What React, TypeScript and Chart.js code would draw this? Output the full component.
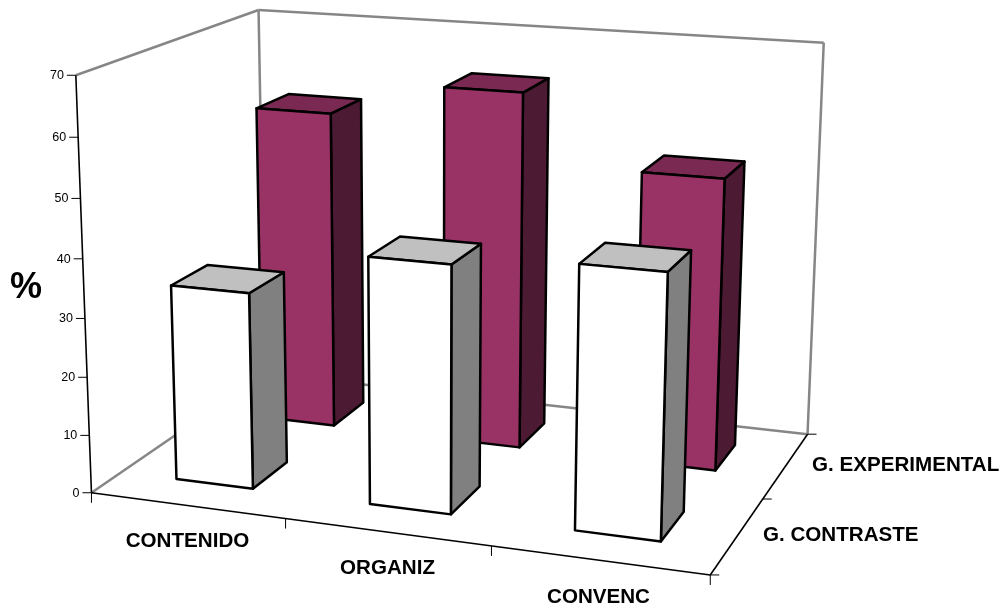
import { useEffect, useRef } from "react";
import { Chart, registerables } from "chart.js";

Chart.register(...registerables);

// Chart values
const categories = ["CONTENIDO", "ORGANIZ", "CONVENC"];
const seriesNames = ["G. CONTRASTE", "G. EXPERIMENTAL"];
const contrasteValues = [33.7, 41.7, 43.7];
const experimentalValues = [56.8, 62.8, 50.7];
const valueTicks = [0, 10, 20, 30, 40, 50, 60, 70];

// Box shading per series
const frontColors = ["#ffffff", "#993366"];
const topColors = ["#c0c0c0", "#7a2952"];
const sideColors = ["#808080", "#4d1a33"];

// Where the corners of the unit plot box (x, y, depth) land on the canvas
const boxCorners: [number, number, number, number, number][] = [
  [0, 0, 0, 92.5, 492.5],
  [1, 0, 0, 710, 575.5],
  [1, 0, 1, 808, 433.5],
  [0, 0, 1, 264, 374],
  [0, 1, 0, 75, 75],
  [0, 1, 1, 259.5, 10],
  [1, 1, 1, 823.5, 43],
];

// Box footprint relative to a category / series centre, in unit-cube terms
const BAR_OFFSET = -0.002;
const BAR_HALF_WIDTH = 0.067;
const BAR_DEPTH_NEAR = -0.095;
const BAR_DEPTH_FAR = 0.105;

// Text placement
const categoryLabelPos = [[187.5, 541], [387.5, 568], [598.5, 597]];
const seriesLabelPos = [[763, 535], [812, 465]];

const FONT = '"Liberation Sans", Arial, sans-serif';

type Pt = [number, number];

// Least-squares fit of a 3x4 projective camera to the corner list
function fitCamera(): number[] {
  const rows: number[][] = [];
  const rhs: number[] = [];
  for (const [x, y, z, u0, v0] of boxCorners) {
    const u = u0 / 1000;
    const v = v0 / 1000;
    rows.push([x, y, z, 1, 0, 0, 0, 0, -u * x, -u * y, -u * z]);
    rhs.push(u);
    rows.push([0, 0, 0, 0, x, y, z, 1, -v * x, -v * y, -v * z]);
    rhs.push(v);
  }
  const n = 11;
  const m: number[][] = [];
  for (let i = 0; i < n; i++) {
    const r = new Array(n + 1).fill(0);
    rows.forEach((row, k) => {
      for (let j = 0; j < n; j++) r[j] += row[i] * row[j];
      r[n] += row[i] * rhs[k];
    });
    m.push(r);
  }
  for (let i = 0; i < n; i++) {
    let p = i;
    for (let k = i + 1; k < n; k++) if (Math.abs(m[k][i]) > Math.abs(m[p][i])) p = k;
    [m[i], m[p]] = [m[p], m[i]];
    for (let k = 0; k < n; k++) {
      if (k === i) continue;
      const f = m[k][i] / m[i][i];
      for (let j = i; j <= n; j++) m[k][j] -= f * m[i][j];
    }
  }
  return m.map((r, i) => r[n] / r[i]);
}

const cam = fitCamera();

function project(x: number, y: number, z: number): Pt {
  const w = cam[8] * x + cam[9] * y + cam[10] * z + 1;
  return [
    (1000 * (cam[0] * x + cam[1] * y + cam[2] * z + cam[3])) / w,
    (1000 * (cam[4] * x + cam[5] * y + cam[6] * z + cam[7])) / w,
  ];
}

function segment(ctx: CanvasRenderingContext2D, a: Pt, b: Pt, color: string, width: number) {
  ctx.strokeStyle = color;
  ctx.lineWidth = width;
  ctx.beginPath();
  ctx.moveTo(a[0], a[1]);
  ctx.lineTo(b[0], b[1]);
  ctx.stroke();
}

function face(ctx: CanvasRenderingContext2D, pts: Pt[], fill: string) {
  ctx.fillStyle = fill;
  ctx.strokeStyle = "#000000";
  ctx.lineWidth = 2.5;
  ctx.lineJoin = "round";
  ctx.beginPath();
  pts.forEach((p, i) => (i ? ctx.lineTo(p[0], p[1]) : ctx.moveTo(p[0], p[1])));
  ctx.closePath();
  ctx.fill();
  ctx.stroke();
}

// Draws the perspective frame, axes and boxes in place of flat bars
const perspectiveBars = {
  id: "perspectiveBars",
  beforeDatasetsDraw(chart: any) {
    const { ctx, scales } = chart;
    const xs = scales.x;
    const ys = scales.y;
    const yFrac = (v: number) => (ys.bottom - ys.getPixelForValue(v)) / (ys.bottom - ys.top);
    const xFrac = (i: number) => (xs.getPixelForValue(i) - xs.left) / (xs.right - xs.left);
    const zFrac = (d: number) => (d + 0.5) / seriesNames.length;

    ctx.save();
    ctx.lineCap = "butt";

    // Back walls
    const grey = "#868686";
    segment(ctx, project(0, 0, 0), project(0, 0, 1), grey, 2.5);
    segment(ctx, project(0, 0, 1), project(1, 0, 1), grey, 2.5);
    segment(ctx, project(0, 0, 1), project(0, 1, 1), grey, 2.5);
    segment(ctx, project(0, 1, 0), project(0, 1, 1), grey, 2.5);
    segment(ctx, project(0, 1, 1), project(1, 1, 1), grey, 2.5);
    segment(ctx, project(1, 1, 1), project(1, 0, 1), grey, 2.5);

    // Axis lines
    const ink = "#000000";
    segment(ctx, project(0, 0, 0), project(0, 1, 0), ink, 1.6);
    segment(ctx, project(0, 0, 0), project(1, 0, 0), ink, 1.6);
    segment(ctx, project(1, 0, 0), project(1, 0, 1), ink, 1.6);

    // Value axis ticks and labels
    ctx.font = `12.5px ${FONT}`;
    ctx.textAlign = "right";
    ctx.textBaseline = "middle";
    valueTicks.forEach((t) => {
      const p = project(0, yFrac(t), 0);
      segment(ctx, [p[0] - 9, p[1]], p, ink, 1);
      ctx.fillStyle = "#000000";
      ctx.fillText(String(t), p[0] - 12, p[1] + 0.5);
    });

    // Category ticks along the front edge
    for (let i = 0; i <= categories.length; i++) {
      const p = project(i / categories.length, 0, 0);
      segment(ctx, p, [p[0], p[1] + 10], ink, 1);
    }
    // Series ticks along the right edge
    for (let i = 0; i <= seriesNames.length; i++) {
      const p = project(1, 0, i / seriesNames.length);
      segment(ctx, p, [p[0] + 9, p[1]], ink, 1);
    }

    // Boxes, rear row first so the front row overlaps it
    for (let d = seriesNames.length - 1; d >= 0; d--) {
      const values: number[] = chart.data.datasets[d].data;
      values.forEach((v, i) => {
        const x0 = xFrac(i) + BAR_OFFSET - BAR_HALF_WIDTH;
        const x1 = xFrac(i) + BAR_OFFSET + BAR_HALF_WIDTH;
        const z0 = zFrac(d) + BAR_DEPTH_NEAR;
        const z1 = zFrac(d) + BAR_DEPTH_FAR;
        const h = yFrac(v);
        face(ctx, [project(x1, 0, z0), project(x1, 0, z1), project(x1, h, z1), project(x1, h, z0)], sideColors[d]);
        face(ctx, [project(x0, h, z0), project(x1, h, z0), project(x1, h, z1), project(x0, h, z1)], topColors[d]);
        face(ctx, [project(x0, 0, z0), project(x1, 0, z0), project(x1, h, z0), project(x0, h, z0)], frontColors[d]);
      });
    }

    // Bold captions
    ctx.fillStyle = "#000000";
    ctx.font = `bold 20.6px ${FONT}`;
    ctx.textAlign = "center";
    categories.forEach((c, i) => ctx.fillText(c, categoryLabelPos[i][0], categoryLabelPos[i][1]));
    ctx.textAlign = "left";
    seriesNames.forEach((s, i) => ctx.fillText(s, seriesLabelPos[i][0], seriesLabelPos[i][1]));
    ctx.font = `bold 36px ${FONT}`;
    ctx.textAlign = "center";
    ctx.fillText("%", 26, 288);

    ctx.restore();
    return false;
  },
};

export default function App() {
  const ref = useRef<HTMLCanvasElement>(null);

  useEffect(() => {
    if (!ref.current) return;
    const chart = new Chart(ref.current, {
      type: "bar",
      data: {
        labels: categories,
        datasets: [
          { label: seriesNames[0], data: contrasteValues, backgroundColor: frontColors[0] },
          { label: seriesNames[1], data: experimentalValues, backgroundColor: frontColors[1] },
        ],
      },
      options: {
        animation: false,
        responsive: false,
        events: [],
        layout: { padding: 0 },
        plugins: { legend: { display: false }, tooltip: { enabled: false } },
        scales: {
          x: { display: false },
          y: { display: false, min: 0, max: 70 },
        },
      },
      plugins: [perspectiveBars],
    });
    return () => chart.destroy();
  }, []);

  return (
    <div style={{ position: "fixed", left: 0, top: 0, width: 1003, height: 606, background: "#ffffff" }}>
      <canvas ref={ref} width={1003} height={606} style={{ display: "block" }} />
    </div>
  );
}
